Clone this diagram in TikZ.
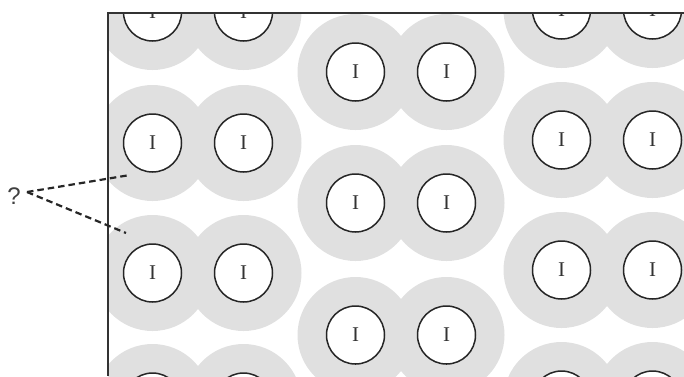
\documentclass[tikz,border=0pt]{standalone}
\usepackage{fontspec}
\setmainfont{Liberation Serif}
\setsansfont{Liberation Sans}
\usepackage{tikz}
\usetikzlibrary{positioning}
\definecolor{haloc}{RGB}{224,224,224}

\begin{document}
\begin{tikzpicture}[x=1pt,y=-1pt,
    atom/.style={circle,draw=black!85,line width=1.5pt,fill=white,
      minimum size=58pt,inner sep=0pt,text=black!80,font=\fontsize{21}{25}\selectfont},
    qline/.style={line width=2.2pt,black!85,dash pattern=on 6.5pt off 4pt}]
  \useasboundingbox (0,0) rectangle (684,376);
  % one I2 molecule: halo pair first, then the two atoms (#4 = label)
  \def\molec#1#2#3#4{%
    \fill[haloc] (#2-45.5,#3) circle (58pt) (#2+45.5,#3) circle (58pt);
    \node[atom] (#1a) at (#2-45.5,#3) {#4};
    \node[atom] (#1b) at (#2+45.5,#3) {#4};}
  \begin{scope}
    \clip (108,13) rectangle (684,376);
    % left column
    \molec{l1}{198}{12}{I}
    \molec{l2}{198}{143}{I}
    \molec{l3}{198}{273}{I}
    \molec{l4}{198}{402}{}
    % middle column
    \molec{m1}{401}{72}{I}
    \molec{m2}{401}{203}{I}
    \molec{m3}{401}{335}{I}
    % right column
    \molec{r1}{607}{10}{I}
    \molec{r2}{607}{140}{I}
    \molec{r3}{607}{270}{I}
    \molec{r4}{607}{400}{}
  \end{scope}
  % frame
  \draw[line width=1.3pt,black!80] (108,376) -- (108,13) -- (684,13);
  % question: which gap?
  \node[font=\sffamily\fontsize{24}{28}\selectfont,inner sep=1pt,black!75] (q) at (14,196) {?};
  \coordinate (gapA) at (130,175);
  \coordinate (gapB) at (126,233);
  \coordinate (qs) at (27,192);
  \draw[qline] (qs) -- (gapA);
  \draw[qline] (qs) -- (gapB);
\end{tikzpicture}
\end{document}
